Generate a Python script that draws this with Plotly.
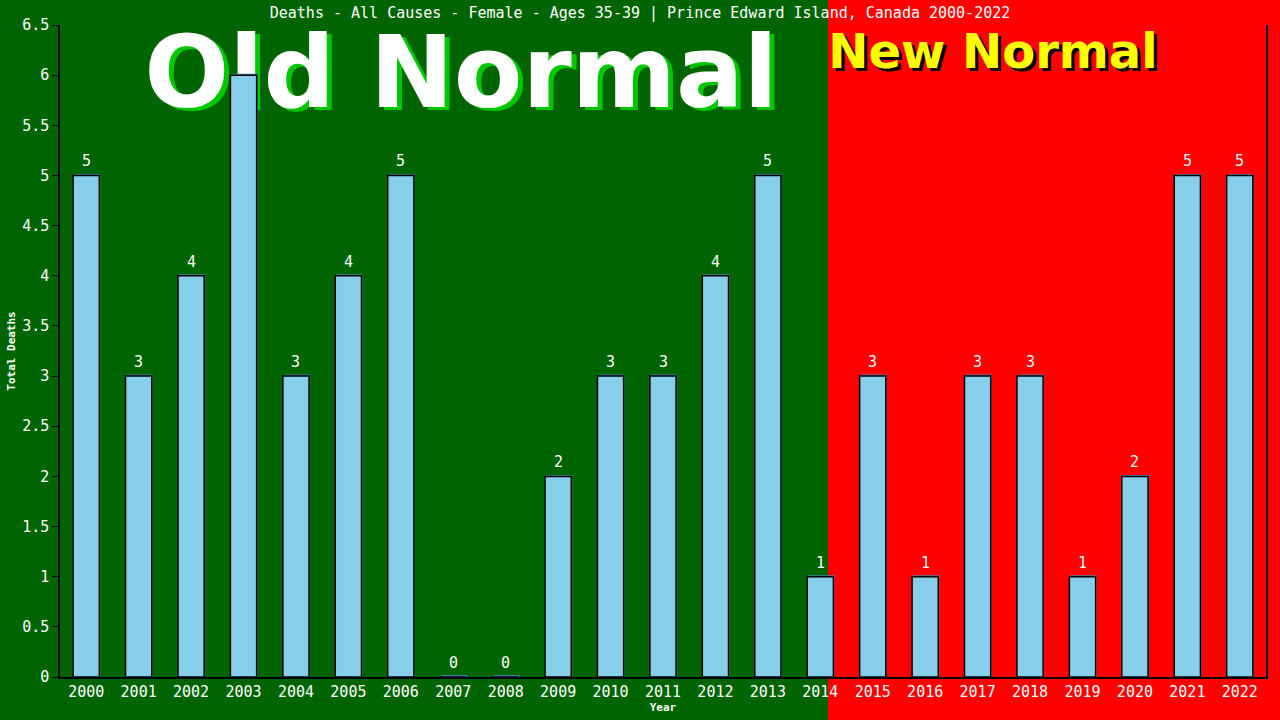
import plotly.graph_objects as go

years = [str(y) for y in range(2000, 2023)]
deaths = [5, 3, 4, 6, 3, 4, 5, 0, 0, 2, 3, 3, 4, 5, 1, 3, 1, 3, 3, 1, 2, 5, 5]

title_text = "Deaths - All Causes - Female - Ages 35-39 | Prince Edward Island, Canada 2000-2022"
mono = "DejaVu Sans Mono"
bold = "DejaVu Sans"

fig = go.Figure()

# thin steel-blue shadow behind each bar (1px up/right)
fig.add_trace(go.Bar(
    x=years, y=[v + 0.015 for v in deaths], width=0.5, offset=-0.23,
    marker=dict(color="#4682B4", line=dict(width=0)),
    hoverinfo="skip", showlegend=False,
))
fig.add_trace(go.Bar(
    x=years, y=deaths, width=0.5,
    marker=dict(color="#87CEEB", line=dict(color="black", width=1.5)),
    showlegend=False,
))

# value labels above bars (x as category index so "2000" is not read as a number)
for i, v in enumerate(deaths):
    fig.add_annotation(x=i, y=v, text=str(v), showarrow=False, yshift=14,
                       xanchor="center", yanchor="middle",
                       font=dict(family=mono, size=15, color="white"))

# green / red background halves
split = 0.6368
fig.add_shape(type="rect", xref="paper", yref="paper", x0=-0.2, x1=split, y0=-0.2, y1=1.2,
              fillcolor="#006400", line_width=0, layer="below")
fig.add_shape(type="rect", xref="paper", yref="paper", x0=split, x1=1.2, y0=-0.2, y1=1.2,
              fillcolor="#FF0000", line_width=0, layer="below")


# big banner words as shape labels so they sit underneath the bars
def banner(text, cx, cy, size, color, dx=0, dy=0):
    px_x = dx / 1206
    px_y = dy / 652
    fig.add_shape(type="rect", xref="paper", yref="paper",
                  x0=cx - 0.3 + px_x, x1=cx + 0.3 + px_x,
                  y0=cy - 0.1 + px_y, y1=cy + 0.1 + px_y,
                  line_width=0, fillcolor="rgba(0,0,0,0)", layer="below",
                  label=dict(text=text, textposition="middle center",
                             font=dict(family=bold, size=size, color=color, weight="bold")))


banner("Old Normal", 0.3325, 0.938, 100, "#00C800", dx=5, dy=-3)
banner("Old Normal", 0.3325, 0.938, 100, "white")
banner("New Normal", 0.7736, 0.965, 48, "black", dx=3, dy=-3)
banner("New Normal", 0.7736, 0.965, 48, "#FFFF00")

fig.update_layout(
    width=1280, height=720,
    margin=dict(l=60, r=14, t=25, b=43),
    paper_bgcolor="#FF0000", plot_bgcolor="rgba(0,0,0,0)",
    barmode="overlay",
    title=dict(text=title_text, x=0.5, xanchor="center", y=0.982, yanchor="middle",
               font=dict(family=mono, size=15, color="white"), automargin=False),
    font=dict(family=mono, color="white"),
)
fig.update_xaxes(
    type="category", range=[-0.5, len(years) - 0.5], automargin=False,
    showgrid=False, showline=True, linecolor="black", linewidth=1.5,
    ticks="", tickfont=dict(family=mono, size=15, color="white"),
    title=dict(text="<b>Year</b>", font=dict(family=mono, size=11, color="white"), standoff=4),
)
fig.update_yaxes(
    range=[0, 6.5], dtick=0.5, automargin=False, showgrid=False, zeroline=False,
    showline=True, linecolor="black", linewidth=1.5, mirror=True,
    ticks="outside", ticklen=6, tickcolor="black",
    tickfont=dict(family=mono, size=15, color="white"),
    title=dict(text="<b>Total Deaths</b>", font=dict(family=mono, size=11, color="white"), standoff=4),
)

# drop the browser's default 8px body margin so the figure fills the window
fig.write_html("out.html", config={"displayModeBar": False},
               post_script="document.body.style.margin='0';")
